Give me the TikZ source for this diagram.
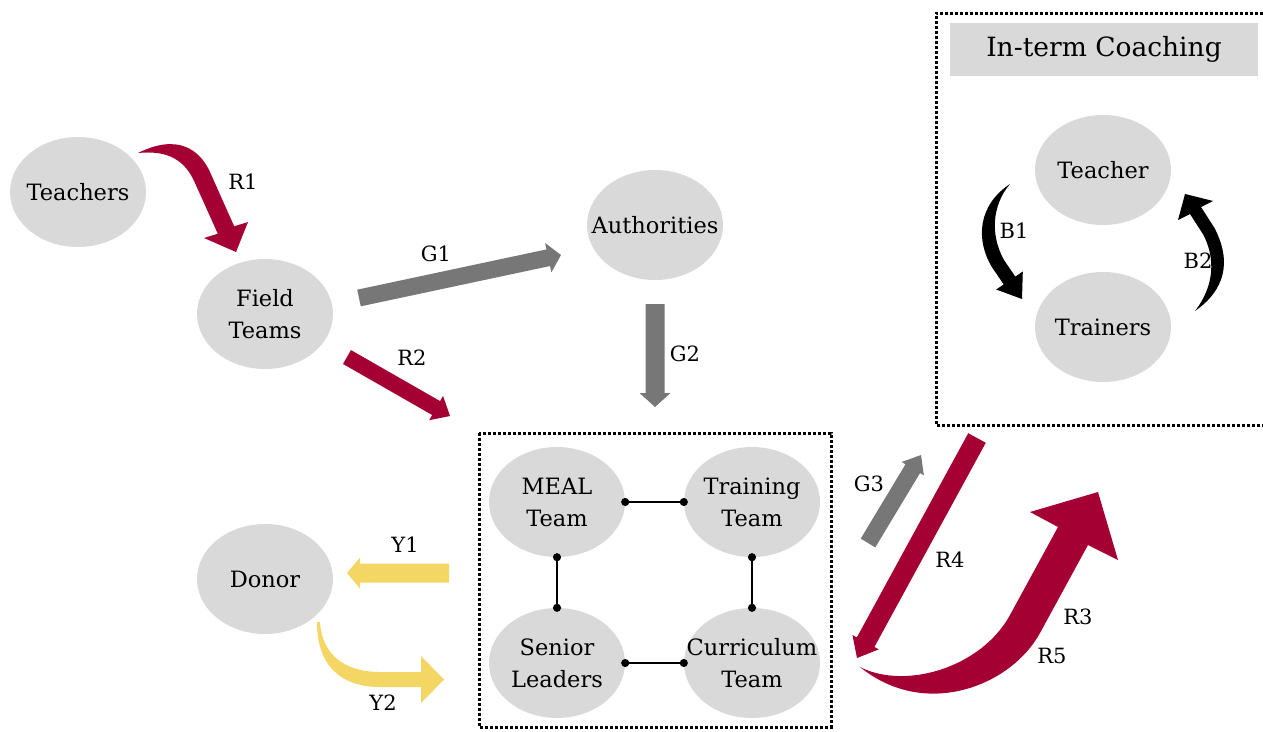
\documentclass[tikz,border=0pt]{standalone}
\usepackage{fontspec}
\setmainfont{DejaVu Serif}
\usetikzlibrary{shapes.geometric,calc,arrows.meta}
\definecolor{lgred}{HTML}{A50034}
\definecolor{lggray}{HTML}{777777}
\definecolor{lgyellow}{HTML}{F3D664}
\definecolor{ellfill}{HTML}{D9D9D9}
\tikzset{
  ell/.style={ellipse, fill=ellfill, minimum width=136pt, minimum height=110pt, inner xsep=-20pt, inner ysep=-10pt, align=center, font=\fontsize{22.5}{32}\selectfont},
  lbl/.style={inner sep=0pt, font=\fontsize{21}{24}\selectfont},
  frame/.style={line width=3pt, dash pattern=on 3pt off 2pt},
  conn/.style={line width=1.8pt, {Circle[length=8pt]}-{Circle[length=8pt]}, shorten <=-4pt, shorten >=-4pt},
}
\newcommand\blockarrow[6]{%
  \coordinate (ba) at #2; \coordinate (bb) at #3;
  \coordinate (bh) at ($(bb)!#6!(ba)$);
  \fill[#1] ($(ba)!#4!-90:(bb)$) -- ($(bh)!#4!90:(ba)$) -- ($(bh)!#5!90:(ba)$) -- (bb)
    -- ($(bh)!#5!-90:(ba)$) -- ($(bh)!#4!-90:(ba)$) -- ($(ba)!#4!90:(bb)$) -- cycle;}
\begin{document}
\begin{tikzpicture}[x=1pt,y=-1pt]
\useasboundingbox (0,0) rectangle (1263,731);
% frames
\draw[frame] (1263,13) -| (936,425) -- (1263,425);
\draw[frame] (479,433) rectangle (831,727);
\node[fill=ellfill, minimum width=308pt, minimum height=53pt, inner sep=0pt, font=\fontsize{26.5}{30}\selectfont] (hdr) at (1104,49.5) {In-term Coaching};
% nodes
\node[ell] (teachers) at (78,192) {Teachers};
\node[ell] (field) at (265,314) {Field\\Teams};
\node[ell] (auth) at (655,225) {Authorities};
\node[ell] (teacher) at (1103,170) {Teacher};
\node[ell] (trainers) at (1103,327) {Trainers};
\node[ell] (meal) at (557,502) {MEAL\\Team};
\node[ell] (training) at (752,502) {Training\\Team};
\node[ell] (senior) at (557,663) {Senior\\Leaders};
\node[ell] (curric) at (752,663) {Curriculum\\Team};
\node[ell] (donor) at (265,579) {Donor};
% team connectors
\draw[conn] (meal.east) -- (training.west);
\draw[conn] (meal.south) -- (senior.north);
\draw[conn] (training.south) -- (curric.north);
\draw[conn] (senior.east) -- (curric.west);
% straight block arrows
\blockarrow{lggray}{(359,298)}{(561,255)}{8.5pt}{15pt}{13pt}
\blockarrow{lgred}{(347,357)}{(450,416)}{8pt}{14pt}{16pt}
\blockarrow{lggray}{(655,304)}{(655,407)}{9.5pt}{15.5pt}{14pt}
\blockarrow{lgyellow}{(449,573)}{(347,573)}{9.5pt}{15.5pt}{13pt}
\blockarrow{lggray}{(868,543)}{(921,455)}{8.5pt}{13pt}{16pt}
\blockarrow{lgred}{(977,438)}{(857,658)}{10pt}{15pt}{18pt}
% R1
\fill[lgred] (138,153) .. controls (178,133) and (200,150) .. (210,172) -- (234.2,226.3)
  -- (248,222) -- (236,252) -- (204,238) -- (217.8,233.7) -- (195,183)
  .. controls (185,160) and (168,150) .. (138,153) -- cycle;
% Y2
\fill[lgyellow] (317,622) .. controls (317,665) and (340,687) .. (380,687) -- (421,687)
  -- (421,703) -- (444,679.5) -- (421,656) -- (421,672) -- (380,672)
  .. controls (345,672) and (322,655) .. (320,622) -- cycle;
% R3/R5
\fill[lgred] (860,667) .. controls (905,690) and (981,668) .. (1010,615) -- (1058,527)
  -- (1030,512) -- (1098,492) -- (1118,560) -- (1088,545) -- (1040,633)
  .. controls (1011,686) and (925,720) .. (860,667) -- cycle;
% B1
\fill[black] (1010,184) .. controls (978,205) and (975,240) .. (992.5,268) -- (1003.7,284.4)
  -- (996.2,289.5) -- (1022,299) -- (1022.8,271.5) -- (1015.3,276.6) -- (1004,260)
  .. controls (990,235) and (992,205) .. (1010,184) -- cycle;
% B2
\fill[black] (1195,311) .. controls (1215,285) and (1215,258) .. (1203.5,235) -- (1190,214)
  -- (1178,220) -- (1185,194) -- (1213,201) -- (1201,207) -- (1214.5,228)
  .. controls (1232,262) and (1225,290) .. (1195,311) -- cycle;
% labels
\node[lbl] (lR1) at (243,182) {R1};
\node[lbl] (lG1) at (436,254) {G1};
\node[lbl] (lR2) at (412,358) {R2};
\node[lbl] (lG2) at (685,354) {G2};
\node[lbl] (lY1) at (405,545) {Y1};
\node[lbl] (lY2) at (383,703) {Y2};
\node[lbl] (lG3) at (869,484) {G3};
\node[lbl] (lR4) at (950,560) {R4};
\node[lbl] (lR3) at (1078,617) {R3};
\node[lbl] (lR5) at (1052,656) {R5};
\node[lbl] (lB1) at (1014,231) {B1};
\node[lbl] (lB2) at (1198,261) {B2};
\end{tikzpicture}
\end{document}
